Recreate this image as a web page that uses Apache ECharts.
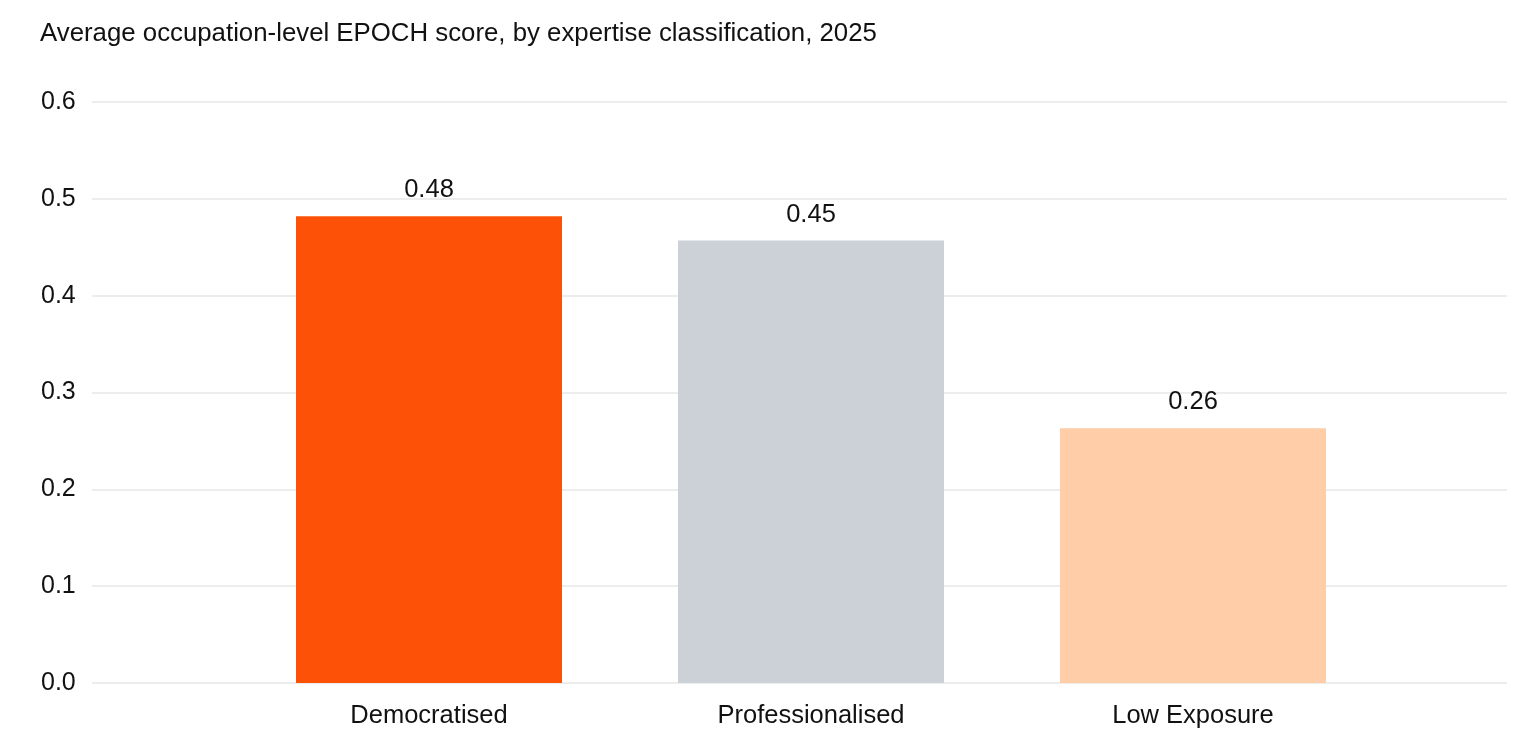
<!DOCTYPE html>
<html>
<head>
<meta charset="utf-8">
<script src="https://cdn.jsdelivr.net/npm/echarts@6/dist/echarts.min.js"></script>
<style>
    html, body { margin: 0; padding: 0; background: #fff; }
    #main { width: 1535px; height: 756px; }
</style>
</head>
<body>
<div id="main"></div>
<script>
var categories = ['Democratised', 'Professionalised', 'Low Exposure'];
var scores = [0.482, 0.457, 0.263];
var scoreLabels = ['0.48', '0.45', '0.26'];
var barColors = ['#FD5108', '#CBD1D6', '#FFCDA8'];
var yTicks = ['0.0', '0.1', '0.2', '0.3', '0.4', '0.5', '0.6'];

var myChart = echarts.init(document.getElementById('main'));
var font = '"Liberation Sans", Arial, sans-serif';

var option = {
    animation: false,
    textStyle: { fontFamily: font },
    title: {
        text: 'Average occupation-level EPOCH score, by expertise classification, 2025',
        left: 35,
        top: 16,
        textStyle: { fontFamily: font, fontSize: 25.8, fontWeight: 'normal', color: '#111' }
    },
    grid: [
        // gridlines + y labels across the full width
        { left: 92, right: 28, top: 102, bottom: 73 },
        // bars sit in a narrower band
        { left: 238, right: 151, top: 102, bottom: 73 }
    ],
    xAxis: [
        { type: 'value', gridIndex: 0, show: false, min: 0, max: 1 },
        {
            type: 'category',
            gridIndex: 1,
            data: categories,
            axisLine: { show: false },
            axisTick: { show: false },
            axisLabel: { fontSize: 25.5, color: '#111', margin: 20, fontFamily: font }
        }
    ],
    yAxis: [
        {
            type: 'value',
            gridIndex: 0,
            min: 0,
            max: 0.6,
            interval: 0.1,
            axisLine: { show: false },
            axisTick: { show: false },
            axisLabel: {
                fontSize: 25,
                color: '#111',
                margin: 51,
                align: 'left',
                fontFamily: font,
                formatter: function (v) { return yTicks[Math.round(v * 10)]; }
            },
            splitLine: { lineStyle: { color: '#EDEDED', width: 2 } }
        },
        { type: 'value', gridIndex: 1, min: 0, max: 0.6, show: false, splitLine: { show: false } }
    ],
    series: [
        {
            type: 'bar',
            xAxisIndex: 1,
            yAxisIndex: 1,
            barWidth: 266,
            data: scores.map(function (v, i) {
                return { value: v, itemStyle: { color: barColors[i] } };
            }),
            label: {
                show: true,
                position: 'top',
                distance: 13,
                fontSize: 25.5,
                color: '#111',
                fontFamily: font,
                formatter: function (p) { return scoreLabels[p.dataIndex]; }
            }
        }
    ]
};
myChart.setOption(option);
window.addEventListener('resize', function () { myChart.resize(); });
</script>
</body>
</html>
